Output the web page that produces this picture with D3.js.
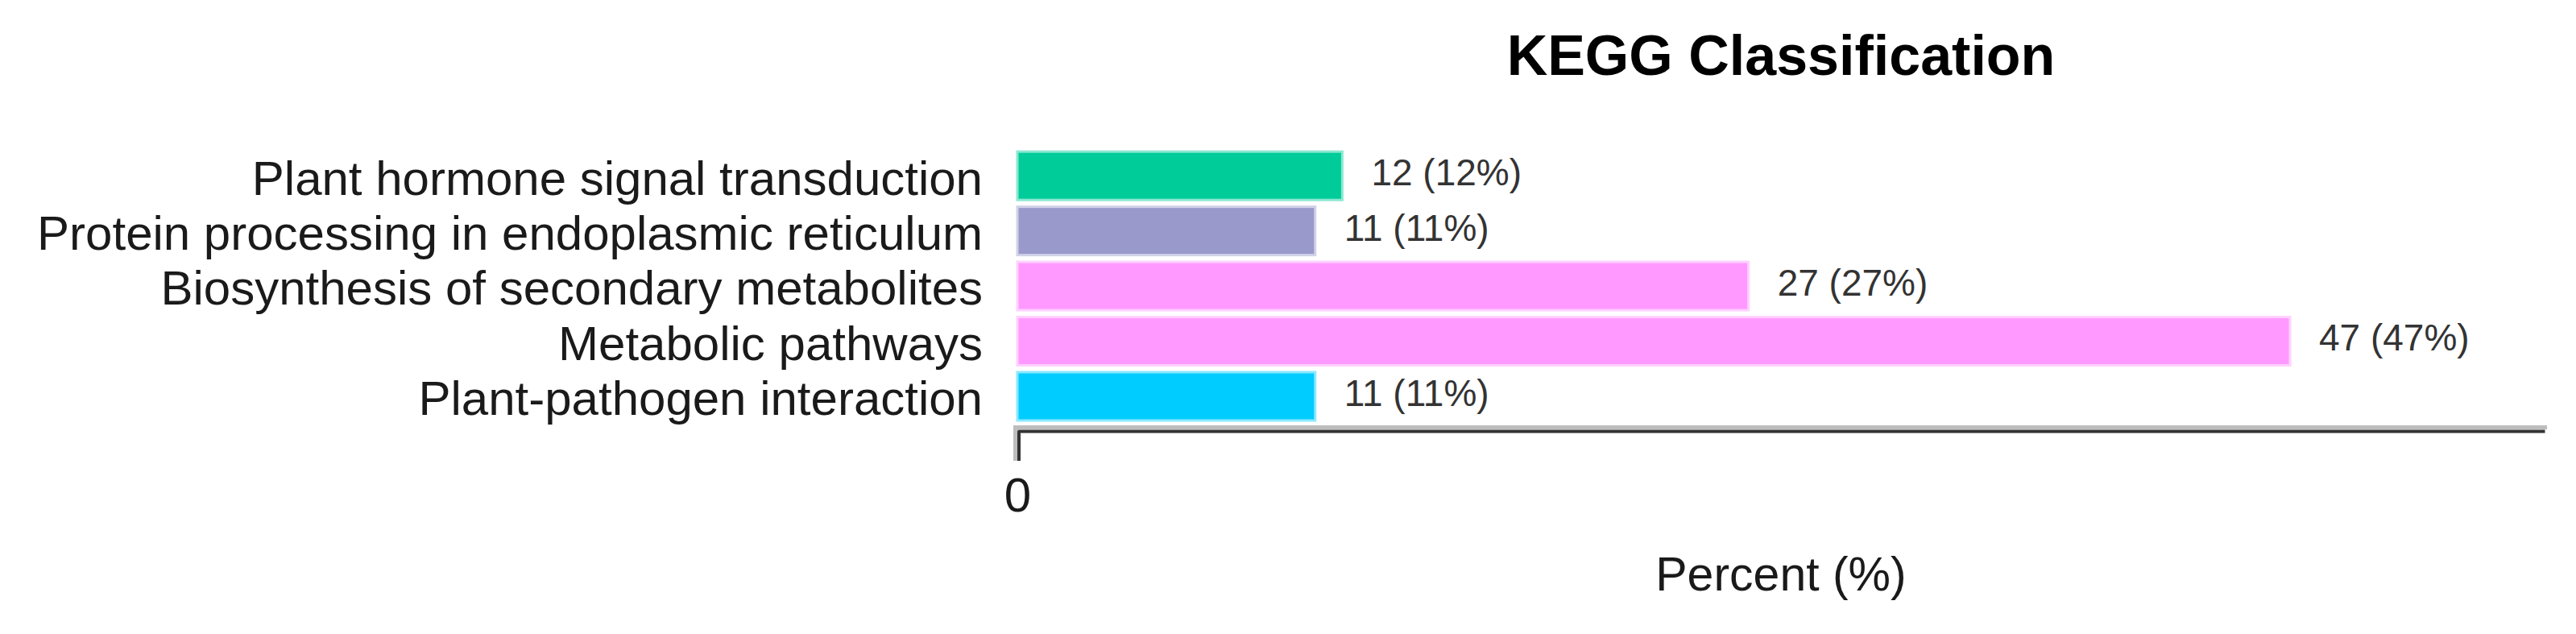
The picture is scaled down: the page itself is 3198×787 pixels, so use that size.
<!DOCTYPE html>
<html>
<head>
<meta charset="utf-8">
<script src="https://cdn.jsdelivr.net/npm/d3@7"></script>
<style>
  html, body { margin: 0; padding: 0; background: #ffffff; }
  svg { display: block; }
  text { font-family: "Liberation Sans", Arial, sans-serif; }
</style>
</head>
<body>
<svg id="chart" width="3198" height="787"></svg>
<script>
const categories = [
  "Plant hormone signal transduction",
  "Protein processing in endoplasmic reticulum",
  "Biosynthesis of secondary metabolites",
  "Metabolic pathways",
  "Plant-pathogen interaction"
];
const counts = [12, 11, 27, 47, 11];
const percents = [12, 11, 27, 47, 11];
const barColors = ["#00cc99", "#9999cc", "#ff99ff", "#ff99ff", "#00ccff"];
const xTickValues = [0];
const titleText = "KEGG Classification";
const xAxisTitle = "Percent (%)";

const W = 3198, H = 787;
const plot = { left: 1263, right: 3159, top: 181.35, bottom: 528.8, axisY: 535 };

const svg = d3.select("#chart");
svg.append("rect").attr("width", W).attr("height", H).attr("fill", "#fff");

const x = d3.scaleLinear()
  .domain([0, d3.max(percents) * 1.2])
  .range([plot.left, plot.right]);

const y = d3.scaleBand()
  .domain(categories)
  .range([plot.top, plot.bottom])
  .paddingInner(0.1234)
  .paddingOuter(0.1);

const data = categories.map((c, i) => ({ cat: c, count: counts[i], pct: percents[i], color: barColors[i] }));

// bars
svg.append("g").selectAll("rect")
  .data(data)
  .join("rect")
  .attr("x", x(0))
  .attr("y", d => y(d.cat))
  .attr("width", d => x(d.pct) - x(0))
  .attr("height", y.bandwidth())
  .attr("fill", d => d.color)
  .attr("stroke", d => d3.interpolateRgb(d.color, "#ffffff")(0.55))
  .attr("stroke-width", 3);

// value labels
svg.append("g").selectAll("text")
  .data(data)
  .join("text")
  .attr("x", d => x(d.pct) + 36)
  .attr("y", d => y(d.cat) + y.bandwidth() / 2)
  .attr("dy", "0.26em")
  .attr("font-size", 46)
  .attr("fill", "#333")
  .text(d => `${d.count} (${d.pct}%)`);

// category labels
svg.append("g").selectAll("text")
  .data(data)
  .join("text")
  .attr("x", plot.left - 43)
  .attr("y", d => y(d.cat) + y.bandwidth() / 2)
  .attr("dy", "0.39em")
  .attr("text-anchor", "end")
  .attr("font-size", 60)
  .attr("fill", "#1a1a1a")
  .text(d => d.cat);

// axis halo (soft gray shadow above / left of axis line)
const halo = svg.append("g").attr("stroke", "#bdbdbd").attr("fill", "none");
halo.append("line")
  .attr("x1", x(0) - 3).attr("x2", x.range()[1] + 3)
  .attr("y1", plot.axisY - 4.5).attr("y2", plot.axisY - 4.5)
  .attr("stroke-width", 5);
halo.append("line")
  .attr("x1", x(0) - 2.5).attr("x2", x(0) - 2.5)
  .attr("y1", plot.axisY - 7).attr("y2", plot.axisY + 37)
  .attr("stroke-width", 5);

// x axis
const xAxis = d3.axisBottom(x)
  .tickValues(xTickValues)
  .tickSize(37)
  .tickSizeOuter(0)
  .tickPadding(20.4)
  .tickFormat(d3.format("d"));

const gx = svg.append("g")
  .attr("transform", `translate(0,${plot.axisY})`)
  .call(xAxis);
gx.select(".domain").attr("stroke", "#333").attr("stroke-width", 4);
gx.selectAll(".tick line").attr("stroke", "#333").attr("stroke-width", 4)
  .attr("transform", "translate(1.5,0)");
gx.selectAll(".tick text")
  .attr("font-size", 60)
  .attr("font-family", "Liberation Sans, Arial, sans-serif")
  .attr("fill", "#1a1a1a");

// title
const midX = (plot.left + plot.right) / 2;
svg.append("text")
  .attr("x", midX)
  .attr("y", 93)
  .attr("text-anchor", "middle")
  .attr("font-size", 70)
  .attr("font-weight", "bold")
  .attr("fill", "#000")
  .text(titleText);

// x axis title
svg.append("text")
  .attr("x", midX)
  .attr("y", 733)
  .attr("text-anchor", "middle")
  .attr("font-size", 59)
  .attr("fill", "#1a1a1a")
  .text(xAxisTitle);
</script>
</body>
</html>
